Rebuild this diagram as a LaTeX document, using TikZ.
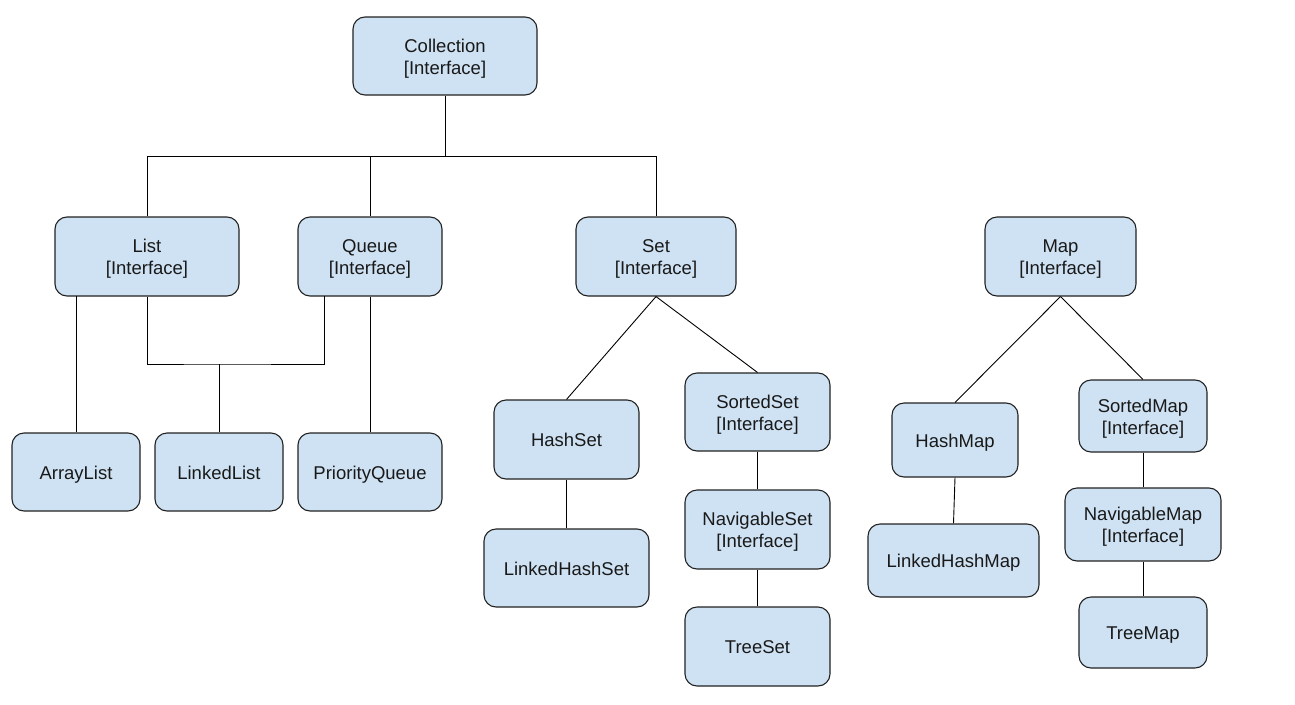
\documentclass[tikz,border=0pt]{standalone}
\usepackage{fontspec}
\setmainfont{Liberation Sans}
\definecolor{boxfill}{HTML}{CFE2F3}
\definecolor{boxdraw}{HTML}{222222}
\newcommand\mybox[7][lbl]{\node[box,minimum width=#5,minimum height=#6,
  label={[#1]center:{#7}}] (#2) at (#3,#4) {};}
\begin{document}
\begin{tikzpicture}[x=1pt,y=-1pt,
  box/.style={draw=boxdraw,fill=boxfill,line width=1.1pt,rounded corners=12pt,inner sep=0pt},
  lbl/.style={align=center,inner sep=0pt,yshift=-2.5pt,
    font=\fontsize{18.5}{22}\selectfont,text=black!90},
  lblone/.style={lbl,text height=13.3pt,text depth=3.9pt},
  link/.style={draw=black,line width=0.9pt}]
\useasboundingbox (0,0) rectangle (1295,704);
% nodes
\mybox{coll}{445}{56}{184}{78}{Collection\\{[Interface]}}
\mybox{list}{147}{256.5}{184}{79}{List\\{[Interface]}}
\mybox{queue}{370}{256.5}{144}{79}{Queue\\{[Interface]}}
\mybox{set}{656}{256.5}{160}{79}{Set\\{[Interface]}}
\mybox{map}{1060.5}{256.5}{151}{79}{Map\\{[Interface]}}
\mybox[lblone]{al}{76}{472}{128}{78}{ArrayList}
\mybox[lblone]{ll}{219}{472}{128}{78}{LinkedList}
\mybox[lblone]{pq}{370}{472}{144}{78}{PriorityQueue}
\mybox[lblone]{hs}{566.5}{439.5}{145}{79}{HashSet}
\mybox[lblone]{lhs}{566.5}{568}{165}{78}{LinkedHashSet}
\mybox{ss}{757.5}{412}{145}{78}{SortedSet\\{[Interface]}}
\mybox{ns}{757.5}{529.5}{145}{79}{NavigableSet\\{[Interface]}}
\mybox[lblone]{ts}{757.5}{646.5}{145}{79}{TreeSet}
\mybox[lblone]{hm}{955}{440}{126}{74}{HashMap}
\mybox[lblone]{lhm}{953.5}{560.5}{171}{73}{LinkedHashMap}
\mybox{sm}{1143}{416}{128}{72}{SortedMap\\{[Interface]}}
\mybox{nm}{1143}{524.5}{156}{73}{NavigableMap\\{[Interface]}}
\mybox[lblone]{tm}{1143}{632.5}{128}{71}{TreeMap}
% junctions
\coordinate (j1) at (445,156);
\coordinate (j2) at (219,364);
\coordinate (qb) at (324,296);
\coordinate (lb) at (76,296);
% connectors
\draw[link] (coll.south) -- (j1);
\draw[link] (j1) -| (list.north);
\draw[link] (j1) -| (queue.north);
\draw[link] (j1) -| (set.north);
\draw[link] (lb) -- (al.north);
\draw[link] (list.south) |- (j2) -| (qb);
\draw[link] (j2) -- (ll.north);
\draw[link] (queue.south) -- (pq.north);
\draw[link] (set.south) -- (hs.north);
\draw[link] (set.south) -- (ss.north);
\draw[link] (hs.south) -- (lhs.north);
\draw[link] (ss.south) -- (ns.north);
\draw[link] (ns.south) -- (ts.north);
\draw[link] (map.south) -- (hm.north);
\draw[link] (map.south) -- (sm.north);
\draw[link] (hm.south) -- (lhm.north);
\draw[link] (sm.south) -- (nm.north);
\draw[link] (nm.south) -- (tm.north);
\end{tikzpicture}
\end{document}
